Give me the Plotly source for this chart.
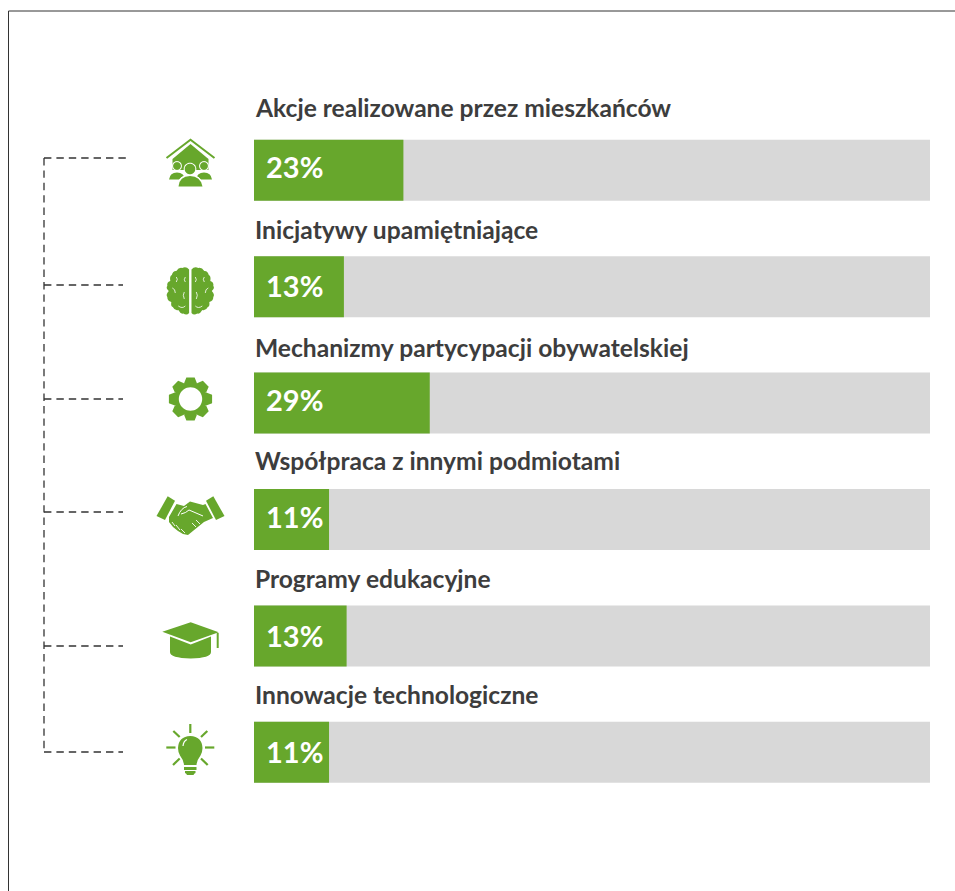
import math
import re
import plotly.graph_objects as go

# ---- data ----
categories = [
    "Akcje realizowane przez mieszkańców",
    "Inicjatywy upamiętniające",
    "Mechanizmy partycypacji obywatelskiej",
    "Współpraca z innymi podmiotami",
    "Programy edukacyjne",
    "Innowacje technologiczne",
]
value_labels = ["23%", "13%", "29%", "11%", "13%", "11%"]
# drawn bar length as share of the grey track (the picture's bars are not to label scale)
bar_lengths = [22.1, 13.3, 26.0, 11.1, 13.7, 11.1]
track = [100, 100, 100, 100, 100, 100]
rows = [0, 1, 2, 3, 4, 5]

W, H = 955, 891
GREEN = "#67a72c"
GREY = "#d8d8d8"
INK = "#3d3d3d"
FONT = "Lato"

label_y_px = [107.5, 229.5, 347.5, 460.5, 578.5, 694.5]
value_y_px = [166.5, 285.5, 399.5, 516.5, 635.5, 751.5]
connector_y_px = [158, 285, 399, 512, 646, 752]
connector_end_px = [127, 123, 123, 123, 123, 123]

# axis ranges: x value 0 at 254 px, 100 at 930 px; row i centred at 170.3 + 116.4*i px
px_per_x = (930 - 254) / 100
x_range = [-254 / px_per_x, (W - 254) / px_per_x]
row_h = 116.4
y_range = [(H - 170.3) / row_h, -170.3 / row_h]


def px(x, y):
    return x / W, 1 - y / H


def to_paper(path):
    """Convert an SVG path written in page pixels to paper coordinates."""
    tokens = re.findall(r"[MLQCZA]|-?\d+\.?\d*", path)
    out, i = [], 0
    while i < len(tokens):
        t = tokens[i]
        if t in "MLQCZ":
            out.append(t)
            i += 1
        else:
            x, y = px(float(tokens[i]), float(tokens[i + 1]))
            out.append(f"{x:.5f},{y:.5f}")
            i += 2
    return " ".join(out)


shapes = []


def poly(points, fill=GREEN, close=True, line=None, width=0, rule="evenodd"):
    d = "M" + " L".join(f"{x} {y}" for x, y in points) + (" Z" if close else "")
    path(d, fill if close else None, line, width, rule)


def path(d, fill=GREEN, line=None, width=0, rule="evenodd"):
    s = dict(type="path", xref="paper", yref="paper", path=to_paper(d), fillrule=rule,
             line=dict(color=line or "rgba(0,0,0,0)", width=width))
    s["fillcolor"] = fill if fill else "rgba(0,0,0,0)"
    shapes.append(s)


def circ_pts(cx, cy, r, n=40):
    return [(cx + r * math.cos(2 * math.pi * k / n), cy + r * math.sin(2 * math.pi * k / n)) for k in range(n)]


def circle(cx, cy, r, fill=GREEN):
    poly([(round(a, 2), round(b, 2)) for a, b in circ_pts(cx, cy, r)], fill)


def stroke(points, color=GREEN, width=2):
    poly(points, None, False, color, width)


def curve(d, color="white", width=1.2):
    path(d, None, color, width)


# frame
FRAME = dict(color="#333333", width=1)
shapes.append(dict(type="line", xref="paper", yref="paper", x0=px(8.5, 0)[0], x1=1,
                   y0=px(0, 11)[1], y1=px(0, 11)[1], line=FRAME))
shapes.append(dict(type="line", xref="paper", yref="paper", x0=px(8.5, 0)[0], x1=px(8.5, 0)[0],
                   y0=px(0, 11)[1], y1=0, line=FRAME))

# dashed connectors
DASH = dict(color="#333333", width=1.3, dash="7.4px,5px")
shapes.append(dict(type="line", xref="paper", yref="paper", x0=px(44, 0)[0], x1=px(44, 0)[0],
                   y0=px(0, connector_y_px[0])[1], y1=px(0, connector_y_px[-1])[1], line=DASH))
for yy, xe in zip(connector_y_px, connector_end_px):
    shapes.append(dict(type="line", xref="paper", yref="paper", x0=px(44, 0)[0], x1=px(xe, 0)[0],
                       y0=px(0, yy)[1], y1=px(0, yy)[1], line=DASH))

# --- icon: house with people ---
stroke([(166.5, 158), (190.5, 139.8), (214.5, 158)], GREEN, 2)
poly([(172.5, 159), (190.5, 144), (208.5, 159), (208.5, 170), (172.5, 170)])
circle(177, 166, 4.9, "white")
circle(204, 166, 4.9, "white")
path("M168 180 Q169 172 177 172 Q185 172 186 180 Z", "white", "white", 1)
path("M195 180 Q196 172 204 172 Q212 172 213 180 Z", "white", "white", 1)
circle(177, 166, 3.9)
circle(204, 166, 3.9)
path("M169 179.5 Q170 172.5 177 172.5 Q184 172.5 185 179.5 Z")
path("M196 179.5 Q197 172.5 204 172.5 Q211 172.5 212 179.5 Z")
circle(190, 169, 6.3, "white")
path("M177 187 Q178 175 190 175 Q202 175 203 187 Z", "white", "white", 1)
circle(190, 169, 5.3)
path("M178.5 186.5 Q179.5 176 190 176 Q200.5 176 202.5 186.5 Z")

# --- icon: brain ---
bumps = [(1.2, 269.5), (8, 268), (14, 271), (18.5, 275), (20, 281), (23, 286), (21.5, 291), (23, 297),
         (19, 302), (17.5, 307), (12, 310), (7, 313.5), (1.2, 313)]
for sign in (1, -1):
    cx = 190.3
    pts = [(cx + sign * dx, yy) for dx, yy in bumps]
    d = f"M{pts[0][0]} {pts[0][1]}"
    for (x0, y0), (x1, y1) in zip(pts, pts[1:]):
        mx, my = (x0 + x1) / 2, (y0 + y1) / 2
        ox, oy = (mx - (cx + sign * 9)), (my - 291)
        n = math.hypot(ox, oy)
        d += f" Q{mx + ox / n * 2.6:.2f} {my + oy / n * 2.6:.2f} {x1} {y1}"
    path(d + " Z")
    for a, b, c in [((5, 277), (7, 280), (5, 282)), ((14, 277), (12, 279), (14, 282)),
                    ((18, 288), (15, 289), (15, 293)), ((6, 292), (8, 295), (6, 299)),
                    ((5, 306), (8, 309), (12, 306))]:
        curve(f"M{cx + sign * a[0]} {a[1]} Q{cx + sign * b[0]} {b[1]} {cx + sign * c[0]} {c[1]}", "white", 0.8)

# --- icon: gear ---
gcx, gcy = 190.5, 399
gear = []
for k in range(8):
    ang = math.pi / 4 * k
    for rad, off in [(16.5, -0.42), (22, -0.19), (22, 0.19), (16.5, 0.42)]:
        gear.append((round(gcx + rad * math.cos(ang + off), 2), round(gcy + rad * math.sin(ang + off), 2)))
hole = [(round(a, 2), round(b, 2)) for a, b in circ_pts(gcx, gcy, 11.7)]
d = "M" + " L".join(f"{x} {y}" for x, y in gear) + " Z M" + " L".join(f"{x} {y}" for x, y in hole) + " Z"
path(d)

# --- icon: handshake ---
poly([(156.5, 516), (167.7, 496.3), (175, 500.7), (165, 520)])
poly([(224.5, 516), (213.3, 496.3), (206, 500.7), (216, 520)])
poly([(169, 517), (176.5, 504), (184, 506), (190, 501.5), (203, 505), (205.5, 504), (213, 518),
      (204, 522), (188, 535), (183, 534), (178, 531), (173, 527), (169, 522)])
curve("M178 516 Q181 508 187 506.5 M181 514 Q186 513 189 510 L203 516", "white", 1)
curve("M192 523 L196 527 M196 520 L200 524", "white", 0.9)
curve("M172 522 L175 526 M176 525 L180 530 M181 529 L185 533", "white", 0.9)

# --- icon: graduation cap ---
poly([(162.3, 631.7), (190.7, 622.3), (218.7, 632.3), (190.7, 642.3)])
path("M170 636.5 L190.7 644.5 L211 636.5 L211 652 Q211 658 190.7 658.5 Q170 658 170 652 Z")
stroke([(217.7, 633), (217.7, 648)], GREEN, 2)

# --- icon: light bulb ---
for a, b in [((190.3, 724), (190.3, 733)), ((207.3, 731), (201, 737)), ((214.3, 747.5), (205, 747.5)),
             ((207.7, 765), (201, 758.5)), ((173.3, 731), (179.7, 737)), ((166.3, 747.5), (175.5, 747.5)),
             ((173, 765), (179.7, 758.5))]:
    stroke([a, b], GREEN, 2.2)
path("M184 765 Q183.5 760 180 755.5 Q178 752 178 748 Q178.5 736.5 190.3 736 Q202 736.5 202.5 748 Q202.5 752 200.5 755.5 Q197 760 196.5 765 Z")
poly([(184, 767), (196.5, 767), (196.5, 770), (184, 770)])
path("M185 771 L195.5 771 L195.5 773 Q194 773.5 193.5 775 L187 775 Q186.5 773.5 185 773 Z")
curve("M183 746 Q183.5 741 187 739.5", "white", 1.2)

fig = go.Figure()
fig.add_trace(go.Bar(x=track, y=rows, orientation="h", marker=dict(color=GREY, line=dict(width=0)),
                     width=61 / row_h, hoverinfo="skip"))
fig.add_trace(go.Bar(x=bar_lengths, y=rows, orientation="h", marker=dict(color=GREEN, line=dict(width=0)),
                     width=61 / row_h, customdata=value_labels, hovertemplate="%{customdata}<extra></extra>"))

annotations = []
for cat, lab, ly, vy in zip(categories, value_labels, label_y_px, value_y_px):
    annotations.append(dict(text=cat, xref="paper", yref="paper", x=px(252.5, 0)[0], y=px(0, ly)[1],
                            xanchor="left", yanchor="middle", showarrow=False,
                            font=dict(family=FONT, size=24.6, color=INK, weight=700)))
    annotations.append(dict(text=lab, xref="paper", yref="paper", x=px(264, 0)[0], y=px(0, vy)[1],
                            xanchor="left", yanchor="middle", showarrow=False,
                            font=dict(family=FONT, size=29, color="white", weight=700)))

fig.update_layout(
    width=W, height=H, autosize=False, barmode="overlay", showlegend=False,
    margin=dict(l=0, r=0, t=0, b=0), paper_bgcolor="white", plot_bgcolor="white",
    xaxis=dict(range=x_range, visible=False, fixedrange=True),
    yaxis=dict(range=y_range, visible=False, fixedrange=True),
    shapes=shapes, annotations=annotations,
)
fig.write_html("out.html", config={"displayModeBar": False},
               post_script="document.body.style.margin='0';document.documentElement.style.overflow='hidden';")
